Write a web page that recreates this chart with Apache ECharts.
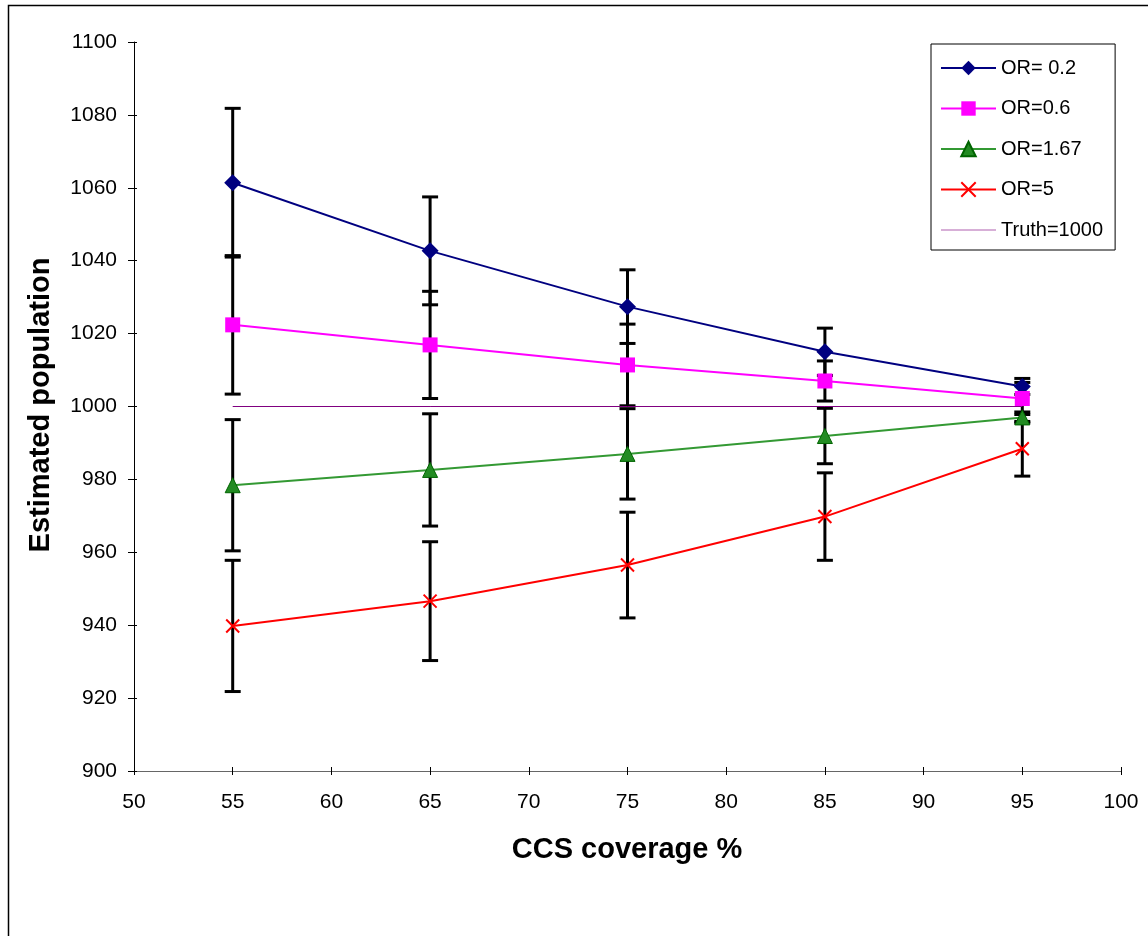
<!DOCTYPE html>
<html>
<head>
<meta charset="utf-8">
<script src="https://cdn.jsdelivr.net/npm/echarts@6/dist/echarts.min.js"></script>
<style>
  html, body { margin: 0; padding: 0; background: #fff; }
  #chart { width: 1148px; height: 936px; }
</style>
</head>
<body>
<div id="chart"></div>
<script>
// coverage values on the x axis
var coverage = [55, 65, 75, 85, 95];

// estimated population for each odds ratio
var or02 = [1061.4, 1042.7, 1027.4, 1015.0, 1005.5];
var or06 = [1022.4, 1016.9, 1011.4, 1007.0, 1002.2];
var or167 = [978.4, 982.6, 987.0, 991.9, 997.0];
var or5 = [939.8, 946.6, 956.5, 969.8, 988.4];

// half width of the error bars
var or02Err = [20.4, 14.8, 10.1, 6.5, 2.2];
var or06Err = [19.0, 14.7, 11.2, 5.5, 4.4];
var or167Err = [18.0, 15.4, 12.4, 7.6, 1.5];
var or5Err = [18.0, 16.3, 14.5, 12.0, 7.5];

var truth = [1000, 1000, 1000, 1000, 1000];

var seriesNames = ['OR= 0.2', 'OR=0.6', 'OR=1.67', 'OR=5', 'Truth=1000'];

var FONT = 'Liberation Sans';

function pairs(ys) {
    return coverage.map(function (x, i) { return [x, ys[i]]; });
}

// [x, low, high] for every point of every series
var errData = [];
[[or02, or02Err], [or06, or06Err], [or167, or167Err], [or5, or5Err]].forEach(function (s) {
    coverage.forEach(function (x, i) {
        errData.push([x, s[0][i] - s[1][i], s[0][i] + s[1][i]]);
    });
});

function renderErr(params, api) {
    var x = api.value(0);
    var top = api.coord([x, api.value(2)]);
    var bot = api.coord([x, api.value(1)]);
    var w = 8;
    var st = { stroke: '#000', lineWidth: 3 };
    return {
        type: 'group',
        children: [
            { type: 'line', shape: { x1: top[0], y1: top[1], x2: bot[0], y2: bot[1] }, style: st },
            { type: 'line', shape: { x1: top[0] - w, y1: top[1], x2: top[0] + w, y2: top[1] }, style: st },
            { type: 'line', shape: { x1: bot[0] - w, y1: bot[1], x2: bot[0] + w, y2: bot[1] }, style: st }
        ]
    };
}

// legend entries; the truth line gets a plain thin bar instead of a marker
var legendData = seriesNames.map(function (n) {
    if (n === 'Truth=1000') {
        return { name: n, icon: 'path://M0,0 L100,0 L100,2 L0,2 Z' };
    }
    return { name: n };
});

var chart = echarts.init(document.getElementById('chart'));

var option = {
    backgroundColor: '#fff',
    animation: false,
    grid: { left: 134, right: 27, top: 42, bottom: 165 },
    legend: {
        orient: 'vertical',
        left: 931,
        top: 44,
        data: legendData,
        itemWidth: 55,
        itemHeight: 18,
        itemGap: 20.5,
        padding: [14, 12, 10, 9],
        borderColor: '#000',
        borderWidth: 1,
        textStyle: { fontFamily: FONT, fontSize: 20, color: '#000' }
    },
    xAxis: [
        {
            type: 'value', min: 50, max: 100, interval: 5,
            axisLine: { lineStyle: { color: '#666', width: 1 } },
            axisTick: { length: 4, lineStyle: { color: '#000' } },
            axisLabel: { fontFamily: FONT, fontSize: 21, color: '#000', margin: 21 },
            splitLine: { show: false }
        },
        {
            type: 'value', min: 50, max: 100, interval: 5, position: 'bottom',
            axisLine: { show: false },
            axisTick: { inside: true, length: 4, lineStyle: { color: '#000' } },
            axisLabel: { show: false },
            splitLine: { show: false }
        }
    ],
    yAxis: [
        {
            type: 'value', min: 900, max: 1100, interval: 20,
            axisLine: { show: true, lineStyle: { color: '#000', width: 1 } },
            axisTick: { show: true, length: 6, lineStyle: { color: '#000' } },
            axisLabel: {
                fontFamily: FONT, fontSize: 21, color: '#000', margin: 17,
                formatter: function (v) { return String(v); }
            },
            splitLine: { show: false }
        },
        {
            type: 'value', min: 900, max: 1100, interval: 20, position: 'left',
            axisLine: { show: false },
            axisTick: { show: true, inside: true, length: 3, lineStyle: { color: '#000' } },
            axisLabel: { show: false },
            splitLine: { show: false }
        }
    ],
    graphic: [
        {
            type: 'rect', left: 6, top: 3, z: -10,
            shape: { width: 1200, height: 1000 },
            style: { fill: 'none', stroke: '#000', lineWidth: 1.5 }
        },
        {
            type: 'text', x: 41, y: 405, rotation: Math.PI / 2,
            style: {
                text: 'Estimated population', align: 'center', verticalAlign: 'middle',
                font: 'bold 29px "Liberation Sans"', fill: '#000'
            }
        },
        {
            type: 'text', x: 627, y: 850,
            style: {
                text: 'CCS coverage %', align: 'center', verticalAlign: 'middle',
                font: 'bold 29px "Liberation Sans"', fill: '#000'
            }
        }
    ],
    series: [
        {
            name: 'errors', type: 'custom', renderItem: renderErr,
            data: errData, encode: { x: 0, y: [1, 2] }, z: 1, silent: true
        },
        {
            name: 'Truth=1000', type: 'line', data: pairs(truth), symbol: 'none',
            lineStyle: { color: '#800080', width: 1 }, itemStyle: { color: '#b060b0' }, z: 2
        },
        {
            name: 'OR= 0.2', type: 'line', data: pairs(or02), symbol: 'diamond', symbolSize: 17,
            lineStyle: { color: '#000080', width: 2 }, itemStyle: { color: '#000080' }, z: 3
        },
        {
            name: 'OR=0.6', type: 'line', data: pairs(or06), symbol: 'rect', symbolSize: 15,
            lineStyle: { color: '#ff00ff', width: 2 }, itemStyle: { color: '#ff00ff' }, z: 3
        },
        {
            name: 'OR=1.67', type: 'line', data: pairs(or167), symbol: 'triangle', symbolSize: 15,
            lineStyle: { color: '#339933', width: 2 },
            itemStyle: { color: '#228b22', borderColor: '#006400', borderWidth: 1 }, z: 3
        },
        {
            name: 'OR=5', type: 'line', data: pairs(or5),
            symbol: 'path://M0,0 L10,10 M10,0 L0,10', symbolSize: 13,
            lineStyle: { color: '#ff0000', width: 2 },
            itemStyle: { color: '#ff0000', borderColor: '#ff0000', borderWidth: 2 }, z: 3
        }
    ]
};

chart.setOption(option);
</script>
</body>
</html>
